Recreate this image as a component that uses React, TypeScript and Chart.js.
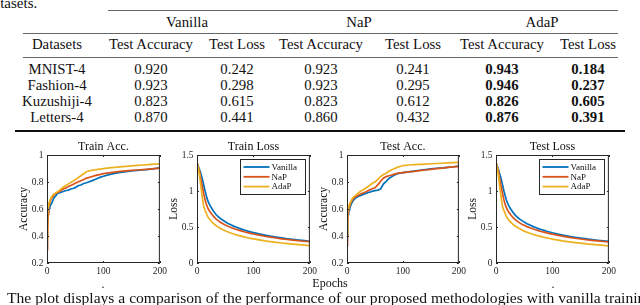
import React, { useEffect, useRef } from "react";
import { Chart, registerables } from "chart.js";

Chart.register(...registerables);

// ---------------- data ----------------
const EPOCHS = [0, 1, 2, 3, 4, 5, 6, 8, 10, 12, 14, 16, 18, 20, 23, 26, 30, 34, 38, 42, 46, 50, 55, 60, 65, 70, 75, 80, 85, 90, 95, 100, 110, 120, 130, 140, 150, 160, 170, 180, 190, 200];

const SERIES_LABELS = ["Vanilla", "NaP", "AdaP"];
const SERIES_COLORS = ["#0072BD", "#D95319", "#EDB120"];

const TRAIN_ACC_VANILLA = [0.51, 0.55, 0.58, 0.6, 0.605, 0.615, 0.625, 0.64, 0.66, 0.68, 0.69, 0.7, 0.712, 0.718, 0.72, 0.726, 0.731, 0.737, 0.74, 0.748, 0.752, 0.758, 0.772, 0.778, 0.789, 0.794, 0.802, 0.81, 0.819, 0.828, 0.836, 0.843, 0.855, 0.864, 0.871, 0.877, 0.882, 0.886, 0.889, 0.894, 0.899, 0.905];
const TRAIN_ACC_NAP = [0.3, 0.4, 0.56, 0.62, 0.64, 0.65, 0.662, 0.68, 0.69, 0.703, 0.71, 0.716, 0.72, 0.726, 0.732, 0.741, 0.75, 0.757, 0.766, 0.774, 0.781, 0.79, 0.8, 0.81, 0.819, 0.829, 0.834, 0.841, 0.847, 0.853, 0.857, 0.862, 0.868, 0.873, 0.878, 0.882, 0.886, 0.889, 0.892, 0.895, 0.899, 0.903];
const TRAIN_ACC_ADAP = [0.38, 0.55, 0.62, 0.64, 0.652, 0.66, 0.672, 0.69, 0.702, 0.71, 0.716, 0.721, 0.726, 0.731, 0.741, 0.752, 0.765, 0.776, 0.786, 0.797, 0.806, 0.816, 0.831, 0.846, 0.861, 0.876, 0.883, 0.887, 0.89, 0.893, 0.896, 0.899, 0.904, 0.908, 0.912, 0.916, 0.92, 0.923, 0.926, 0.929, 0.932, 0.935];

const TRAIN_LOSS_VANILLA = [1.38, 1.36, 1.34, 1.32, 1.3, 1.28, 1.26, 1.21, 1.15, 1.08, 1.01, 0.95, 0.89, 0.85, 0.8, 0.76, 0.71, 0.67, 0.64, 0.615, 0.593, 0.572, 0.55, 0.53, 0.512, 0.496, 0.481, 0.467, 0.455, 0.443, 0.432, 0.422, 0.404, 0.388, 0.373, 0.36, 0.348, 0.337, 0.327, 0.318, 0.31, 0.302];
const TRAIN_LOSS_NAP = [1.38, 1.36, 1.33, 1.3, 1.27, 1.24, 1.2, 1.12, 1.04, 0.96, 0.89, 0.83, 0.785, 0.75, 0.71, 0.68, 0.64, 0.61, 0.585, 0.563, 0.544, 0.528, 0.51, 0.494, 0.479, 0.465, 0.453, 0.442, 0.431, 0.421, 0.412, 0.403, 0.387, 0.372, 0.359, 0.347, 0.336, 0.326, 0.317, 0.309, 0.302, 0.296];
const TRAIN_LOSS_ADAP = [1.38, 1.36, 1.32, 1.28, 1.24, 1.18, 1.12, 1.0, 0.88, 0.78, 0.74, 0.7, 0.66, 0.63, 0.6, 0.572, 0.543, 0.518, 0.497, 0.478, 0.462, 0.447, 0.431, 0.416, 0.403, 0.391, 0.38, 0.37, 0.36, 0.351, 0.343, 0.335, 0.321, 0.308, 0.297, 0.287, 0.278, 0.269, 0.261, 0.254, 0.247, 0.241];

const TEST_ACC_VANILLA = [0.4, 0.54, 0.56, 0.58, 0.595, 0.605, 0.62, 0.64, 0.655, 0.668, 0.677, 0.684, 0.688, 0.692, 0.698, 0.703, 0.71, 0.716, 0.722, 0.727, 0.733, 0.736, 0.74, 0.748, 0.785, 0.805, 0.826, 0.84, 0.852, 0.862, 0.866, 0.869, 0.875, 0.881, 0.887, 0.892, 0.897, 0.902, 0.905, 0.909, 0.913, 0.917];
const TEST_ACC_NAP = [0.33, 0.5, 0.58, 0.61, 0.62, 0.63, 0.64, 0.655, 0.67, 0.68, 0.686, 0.692, 0.697, 0.7, 0.708, 0.715, 0.72, 0.728, 0.737, 0.745, 0.752, 0.757, 0.778, 0.806, 0.828, 0.84, 0.846, 0.852, 0.858, 0.864, 0.867, 0.87, 0.875, 0.879, 0.884, 0.889, 0.894, 0.899, 0.903, 0.908, 0.912, 0.916];
const TEST_ACC_ADAP = [0.4, 0.57, 0.6, 0.62, 0.632, 0.64, 0.65, 0.665, 0.68, 0.69, 0.697, 0.703, 0.71, 0.718, 0.728, 0.736, 0.745, 0.757, 0.767, 0.78, 0.792, 0.8, 0.82, 0.84, 0.855, 0.865, 0.88, 0.89, 0.9, 0.908, 0.915, 0.922, 0.926, 0.929, 0.931, 0.933, 0.935, 0.937, 0.939, 0.941, 0.943, 0.945];

const TEST_LOSS_VANILLA = [1.38, 1.36, 1.34, 1.32, 1.3, 1.27, 1.25, 1.2, 1.14, 1.07, 1.0, 0.94, 0.885, 0.84, 0.79, 0.75, 0.705, 0.665, 0.635, 0.61, 0.588, 0.568, 0.546, 0.527, 0.509, 0.493, 0.478, 0.465, 0.453, 0.441, 0.43, 0.42, 0.402, 0.386, 0.371, 0.358, 0.346, 0.335, 0.325, 0.316, 0.308, 0.3];
const TEST_LOSS_NAP = [1.38, 1.36, 1.33, 1.3, 1.27, 1.23, 1.19, 1.11, 1.03, 0.95, 0.88, 0.82, 0.775, 0.74, 0.7, 0.67, 0.632, 0.603, 0.578, 0.557, 0.539, 0.523, 0.505, 0.489, 0.475, 0.461, 0.449, 0.438, 0.428, 0.418, 0.409, 0.4, 0.384, 0.369, 0.356, 0.344, 0.333, 0.323, 0.314, 0.306, 0.299, 0.293];
const TEST_LOSS_ADAP = [1.38, 1.36, 1.32, 1.28, 1.23, 1.17, 1.1, 0.98, 0.86, 0.77, 0.73, 0.69, 0.655, 0.625, 0.595, 0.567, 0.538, 0.513, 0.492, 0.474, 0.458, 0.443, 0.427, 0.413, 0.4, 0.388, 0.377, 0.367, 0.357, 0.348, 0.34, 0.332, 0.318, 0.305, 0.294, 0.284, 0.275, 0.266, 0.258, 0.251, 0.244, 0.238];

// table
const TABLE_METHODS = ["Vanilla", "NaP", "AdaP"];
const TABLE_SUBCOLUMNS = ["Test Accuracy", "Test Loss"];
const TABLE_DATASETS = ["MNIST-4", "Fashion-4", "Kuzushiji-4", "Letters-4"];
const VANILLA_TEST_ACC = ["0.920", "0.923", "0.823", "0.870"];
const VANILLA_TEST_LOSS = ["0.242", "0.298", "0.615", "0.441"];
const NAP_TEST_ACC = ["0.923", "0.923", "0.823", "0.860"];
const NAP_TEST_LOSS = ["0.241", "0.295", "0.612", "0.432"];
const ADAP_TEST_ACC = ["0.943", "0.946", "0.826", "0.876"];
const ADAP_TEST_LOSS = ["0.184", "0.237", "0.605", "0.391"];

const TOP_TEXT = "datasets.";
const CAPTION = "The plot displays a comparison of the performance of our proposed methodologies with vanilla training";
const SHARED_XLABEL = "Epochs";

// ---------------- styles ----------------
const SERIF = "'Liberation Serif','Times New Roman',serif";
const AXIS_COLOR = "#262626";

const framePlugin = {
  id: "frame",
  afterDatasetsDraw(chart: any) {
    const { ctx, chartArea: a, scales } = chart;
    ctx.save();
    ctx.strokeStyle = AXIS_COLOR;
    ctx.lineWidth = 1;
    ctx.strokeRect(a.left + 0.5, a.top + 0.5, a.right - a.left - 1, a.bottom - a.top - 1);
    const tl = 2;
    ctx.beginPath();
    scales.x.ticks.forEach((t: any) => {
      const px = Math.round(scales.x.getPixelForValue(t.value)) + 0.5;
      ctx.moveTo(px, a.bottom);
      ctx.lineTo(px, a.bottom - tl);
      ctx.moveTo(px, a.top);
      ctx.lineTo(px, a.top + tl);
    });
    scales.y.ticks.forEach((t: any) => {
      const py = Math.round(scales.y.getPixelForValue(t.value)) + 0.5;
      ctx.moveTo(a.left, py);
      ctx.lineTo(a.left + tl, py);
      ctx.moveTo(a.right, py);
      ctx.lineTo(a.right - tl, py);
    });
    ctx.stroke();
    ctx.restore();
  },
};

const boxLegendPlugin = {
  id: "boxLegend",
  afterDraw(chart: any, _args: any, opts: any) {
    if (!opts || !opts.show) return;
    const { ctx, chartArea: a } = chart;
    const w = 65;
    const h = 35;
    const x = Math.round(a.right - 5 - w) + 0.5;
    const y = Math.round(a.top + 4) + 0.5;
    ctx.save();
    ctx.fillStyle = "#ffffff";
    ctx.fillRect(x, y, w, h);
    ctx.strokeStyle = AXIS_COLOR;
    ctx.lineWidth = 1;
    ctx.strokeRect(x, y, w, h);
    ctx.font = `9px ${SERIF}`;
    ctx.textBaseline = "middle";
    ctx.textAlign = "left";
    chart.data.datasets.forEach((ds: any, i: number) => {
      const cy = y + 7.5 + i * 9.8;
      ctx.strokeStyle = ds.borderColor;
      ctx.lineWidth = 1.8;
      ctx.beginPath();
      ctx.moveTo(x + 3, cy);
      ctx.lineTo(x + 29, cy);
      ctx.stroke();
      ctx.fillStyle = "#111";
      ctx.fillText(ds.label, x + 31, cy + 0.5);
    });
    ctx.restore();
  },
};

type PanelProps = {
  boxLeft: number;
  boxRight: number;
  title: string;
  yLabel: string;
  yMin: number;
  yMax: number;
  yStep: number;
  series: number[][];
  legend: boolean;
};

const BOX_TOP = 155;
const BOX_BOTTOM = 263;
const Y_AXIS_W = 37;
const X_AXIS_H = 18;
const TITLE_H = 17;
const RIGHT_PAD = 10;

function Panel(p: PanelProps) {
  const ref = useRef<HTMLCanvasElement | null>(null);
  const width = p.boxRight - p.boxLeft + Y_AXIS_W + RIGHT_PAD;
  const height = TITLE_H + (BOX_BOTTOM - BOX_TOP) + X_AXIS_H;
  useEffect(() => {
    if (!ref.current) return;
    const order = [2, 1, 0];
    const datasets = p.series.map((vals, si) => ({
      label: SERIES_LABELS[si],
      data: EPOCHS.map((e, i) => ({ x: e, y: vals[i] })),
      borderColor: SERIES_COLORS[si],
      backgroundColor: SERIES_COLORS[si],
      borderWidth: 1.7,
      pointRadius: 0,
      tension: 0,
      fill: false,
      order: order[si],
    }));
    const tickFont = { family: SERIF, size: 9.5 };
    const chart = new Chart(ref.current, {
      type: "line",
      data: { datasets } as any,
      options: {
        animation: false,
        responsive: false,
        devicePixelRatio: 1,
        layout: { padding: { top: 0, right: RIGHT_PAD, bottom: 0, left: 0 } },
        plugins: {
          legend: { display: false },
          tooltip: { enabled: false },
          title: {
            display: true,
            text: p.title,
            color: "#111",
            font: { family: SERIF, size: 12, weight: "normal" },
            padding: { top: 1.8, bottom: 0.8 },
            fullSize: false,
          },
          boxLegend: { show: p.legend },
        } as any,
        scales: {
          x: {
            type: "linear",
            min: 0,
            max: 200,
            grid: { display: false, drawTicks: false },
            border: { display: false },
            ticks: { stepSize: 100, padding: 3, color: AXIS_COLOR, font: tickFont, maxRotation: 0, autoSkip: false },
            afterFit: (s: any) => {
              s.height = X_AXIS_H;
            },
          },
          y: {
            type: "linear",
            min: p.yMin,
            max: p.yMax,
            grid: { display: false, drawTicks: false },
            border: { display: false },
            ticks: {
              stepSize: p.yStep,
              padding: 3.5,
              color: AXIS_COLOR,
              font: tickFont,
              autoSkip: false,
              callback: (v: any) => String(Number(Number(v).toFixed(2))),
            },
            title: {
              display: true,
              text: p.yLabel,
              color: "#111",
              font: { family: SERIF, size: 11.5 },
              padding: { top: 7, bottom: 0 },
            },
            afterFit: (s: any) => {
              s.width = Y_AXIS_W;
            },
          },
        } as any,
      },
      plugins: [framePlugin, boxLegendPlugin],
    } as any);
    return () => chart.destroy();
  }, []);
  return (
    <canvas
      ref={ref}
      width={width}
      height={height}
      style={{
        position: "absolute",
        left: p.boxLeft - Y_AXIS_W,
        top: BOX_TOP - TITLE_H,
        width,
        height,
      }}
    />
  );
}

function Txt(props: { cx: number; cy: number; size: number; bold?: boolean; children: any }) {
  return (
    <div
      style={{
        position: "absolute",
        left: props.cx,
        top: props.cy,
        transform: "translate(-50%,-50%)",
        fontFamily: SERIF,
        fontSize: props.size,
        fontWeight: props.bold ? "bold" : "normal",
        lineHeight: 1,
        whiteSpace: "nowrap",
        color: "#111",
      }}
    >
      {props.children}
    </div>
  );
}

function Rule(props: { x1: number; x2: number; y: number; h: number; color: string }) {
  return (
    <div
      style={{
        position: "absolute",
        left: props.x1,
        top: props.y,
        width: props.x2 - props.x1,
        height: props.h,
        background: props.color,
      }}
    />
  );
}

export default function App() {
  const TS = 14.8;
  const datasetCol = 57;
  const methodCenters = [187, 359, 542];
  const subCenters = [151, 237, 321, 413, 502, 588];
  const rowY = [69, 85, 101, 117];
  const cols = [VANILLA_TEST_ACC, VANILLA_TEST_LOSS, NAP_TEST_ACC, NAP_TEST_LOSS, ADAP_TEST_ACC, ADAP_TEST_LOSS];

  return (
    <div
      style={{
        position: "fixed",
        left: 0,
        top: 0,
        width: 640,
        height: 305,
        overflow: "hidden",
        background: "#ffffff",
      }}
    >
      <div
        style={{
          position: "absolute",
          left: -14,
          top: 8.5 - 0.8375 * 15,
          fontFamily: SERIF,
          fontSize: 15,
          lineHeight: 1,
          whiteSpace: "nowrap",
          color: "#111",
        }}
      >
        {TOP_TEXT}
      </div>

      {/* table rules */}
      <Rule x1={108} x2={618} y={9.5} h={1} color="#666" />
      <Rule x1={23} x2={618} y={32.5} h={1} color="#666" />
      <Rule x1={23} x2={618} y={56.5} h={1} color="#666" />
      <Rule x1={15} x2={625} y={130} h={2} color="#111" />

      {TABLE_METHODS.map((m, i) => (
        <Txt key={m} cx={methodCenters[i]} cy={22} size={TS}>
          {m}
        </Txt>
      ))}
      <Txt cx={datasetCol} cy={44} size={TS}>
        Datasets
      </Txt>
      {subCenters.map((c, i) => (
        <Txt key={"h" + i} cx={c} cy={44} size={TS}>
          {TABLE_SUBCOLUMNS[i % 2]}
        </Txt>
      ))}
      {TABLE_DATASETS.map((d, r) => (
        <React.Fragment key={d}>
          <Txt cx={datasetCol} cy={rowY[r]} size={TS}>
            {d}
          </Txt>
          {cols.map((col, c) => (
            <Txt key={c} cx={subCenters[c]} cy={rowY[r]} size={TS} bold={c >= 4}>
              {col[r]}
            </Txt>
          ))}
        </React.Fragment>
      ))}

      <Panel boxLeft={47} boxRight={160} title="Train Acc." yLabel="Accuracy" yMin={0.2} yMax={1} yStep={0.2}
        series={[TRAIN_ACC_VANILLA, TRAIN_ACC_NAP, TRAIN_ACC_ADAP]} legend={false} />
      <Panel boxLeft={197} boxRight={310} title="Train Loss" yLabel="Loss" yMin={0} yMax={1.5} yStep={0.5}
        series={[TRAIN_LOSS_VANILLA, TRAIN_LOSS_NAP, TRAIN_LOSS_ADAP]} legend={true} />
      <Panel boxLeft={347} boxRight={459} title="Test Acc." yLabel="Accuracy" yMin={0.2} yMax={1} yStep={0.2}
        series={[TEST_ACC_VANILLA, TEST_ACC_NAP, TEST_ACC_ADAP]} legend={false} />
      <Panel boxLeft={496} boxRight={609} title="Test Loss" yLabel="Loss" yMin={0} yMax={1.5} yStep={0.5}
        series={[TEST_LOSS_VANILLA, TEST_LOSS_NAP, TEST_LOSS_ADAP]} legend={true} />

      <Txt cx={330} cy={283} size={12}>
        {SHARED_XLABEL}
      </Txt>
      <Txt cx={103} cy={284} size={12}>
        .
      </Txt>
      <Txt cx={553} cy={284} size={12}>
        .
      </Txt>

      <div
        style={{
          position: "absolute",
          left: 7,
          top: 303 - 0.8375 * 15.6,
          fontFamily: SERIF,
          fontSize: 15.6,
          lineHeight: 1,
          whiteSpace: "nowrap",
          color: "#111",
        }}
      >
        {CAPTION}
      </div>
    </div>
  );
}
